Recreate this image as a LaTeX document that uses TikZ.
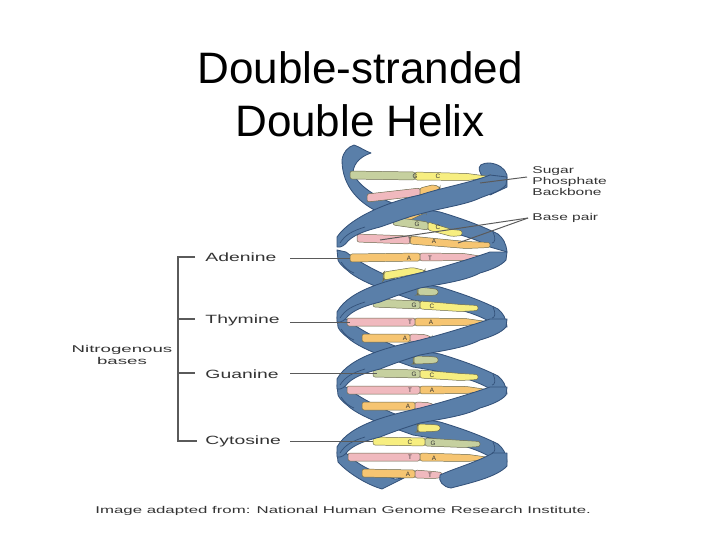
\documentclass[tikz,border=0pt]{standalone}
\usepackage{fontspec}
\setmainfont{Liberation Sans}
\definecolor{myblue}{HTML}{5A7FA9}
\definecolor{mydarkblue}{HTML}{34527A}
\definecolor{mypink}{HTML}{F0B9BE}
\definecolor{myorange}{HTML}{F6C572}
\definecolor{myyellow}{HTML}{F7EE80}
\definecolor{mysage}{HTML}{C6D09F}
\definecolor{myoutline}{HTML}{6B6A4E}
\definecolor{mygray}{HTML}{5A5A5A}
\definecolor{mytext}{HTML}{333333}
\tikzset{
  ribbon/.style={draw=mydarkblue, fill=myblue, line width=0.6pt, line join=round},
  ridge/.style={mydarkblue, line width=0.5pt},
  basepiece/.style={draw=myoutline, line width=0.35pt, rounded corners=1.5pt},
  baseletter/.style={mytext, font=\fontsize{4.5}{5}\selectfont, inner sep=0pt},
  leader/.style={mygray, line width=0.7pt},
  bracket/.style={mygray, line width=1.1pt},
  labeltext/.style={mytext, font=\fontsize{8.5}{9}\selectfont, xscale=1.62, inner sep=0pt, anchor=west},
  smalltext/.style={mytext, font=\fontsize{7}{8}\selectfont, xscale=1.58, inner sep=0pt, anchor=west}
}
\begin{document}
\begin{tikzpicture}[x=0.025cm, y=-0.025cm]
\useasboundingbox (0,0) rectangle (720,540);

% TITLE
\node[font=\fontsize{31.3}{38}\selectfont, align=center, text=black, inner sep=0pt] (title) at (360,94) {Double-stranded\\Double Helix};

% BACK STRANDS
\draw[ribbon] (342,160) .. controls (343,152) and (348,147) .. (354,145) .. controls (360,147) and (365,151) .. (371,153) .. controls (362,156) and (354,162) .. (353,172) .. controls (356,184) and (375,197) .. (395,204) .. controls (410,208) and (430,210) .. (440,212) .. controls (460,218) and (480,225) .. (498,234) .. controls (503,238) and (506,243) .. (507,252) -- (490,247) .. controls (475,237) and (440,229) .. (413,225) -- (385,215) .. controls (360,205) and (342,187) .. cycle;
\draw[ribbon] (480,172) .. controls (477,165) and (482,163) .. (490,163) .. controls (498,164) and (505,168) .. (507,175) -- (507,187) -- (490,195) -- cycle;
\draw[ridge] (493,232) .. controls (496,238) and (495,243) .. (492,243);
\foreach \dy in {0,67,135} {
  \begin{scope}[yshift={-\dy*0.025cm}]
  \draw[ribbon] (346,252) .. controls (360,263) and (378,272) .. (395,279) .. controls (410,283) and (430,285) .. (440,287) .. controls (460,293) and (480,300) .. (498,309) .. controls (503,313) and (506,318) .. (507,327) -- (490,322) .. controls (475,312) and (440,304) .. (413,300) -- (385,290) .. controls (372,285) and (355,278) .. (347,270) .. controls (343,267) and (339,263) .. (338,260) -- (337,250) -- cycle;
  \draw[ridge] (341,262) .. controls (345,268) and (349,271) .. (354,273);
  \draw[ridge] (493,307) .. controls (496,313) and (495,318) .. (492,318);
  \end{scope}
}
\draw[ribbon] (346,453) .. controls (358,465) and (372,472) .. (395,479) -- (404,478) -- (382,489) .. controls (365,484) and (347,472) .. (338,462) -- (337,452) -- cycle;

% BASE PAIRS
\foreach \xa/\ya/\xm/\ym/\xb/\yb/\cola/\colb/\tipb in {
  350/175/415/176/490/177/mysage/myyellow/0.5,
  367/198/420/192/440/188/mypink/myorange/0.5,
  403/219/404/219/426/212/myorange/myorange/0.5,
  393/221/428/226/462/233/mysage/myyellow/2.5,
  357/238/410/240/490/245/mypink/myorange/2.5,
  350/258/420/257/483/257/myorange/mypink/0.5,
  383/277/384/276/425/271/myyellow/myyellow/0.5,
  417/291/418/291/438/292/mysage/mysage/2.5,
  373/303/420/305/478/308/mysage/myyellow/2.5,
  347/322/415/322/487/322/mypink/myorange/0.5,
  362/338/410/338/432/338/myorange/mypink/0.5,
  413/360/414/360/438/360/mysage/mysage/2.5,
  373/373/420/374/478/377/mysage/myyellow/2.5,
  347/390/420/390/487/390/mypink/myorange/0.5,
  362/406/415/406/435/406/myorange/mypink/0.5,
  417/428/418/428/440/428/myyellow/myyellow/2.5,
  373/441/425/442/480/444/myyellow/mysage/2.5,
  348/457/420/457/490/458/mypink/myorange/0.5,
  362/473/415/474/442/475/myorange/mypink/2.5
} {
  \fill[basepiece, fill=\cola] (\xa,\ya-4) -- (\xm,\ym-4) -- (\xm,\ym+4) -- (\xa,\ya+4) -- cycle;
  \fill[basepiece, fill=\colb] (\xm,\ym-4) -- ({\xb-0.3*(\xb-\xm)},{\yb-3.5}) -- (\xb,\yb-\tipb) -- (\xb,\yb+\tipb) -- ({\xb-0.3*(\xb-\xm)},{\yb+3.5}) -- (\xm,\ym+4) -- cycle;
}
\foreach \x/\y/\letter [count=\i] in {
  415/176/G, 438/176/C, 417/224/G, 438/227/C, 410/240/T, 434/241/A, 409/258/A, 430/258/T,
  414/305/G, 432/306/C, 410/322/T, 431/322/A, 405/338/A, 414/374/G, 432/375/C,
  410/390/T, 432/390/A, 408/406/A, 410/442/C, 433/443/G, 410/457/T, 434/458/A, 408/474/A, 430/475/T
} {
  \node[baseletter] (letter\i) at (\x,\y) {\letter};
}

% FRONT STRANDS
\draw[ribbon] (490,175) .. controls (470,183) and (440,188) .. (420,195) .. controls (395,200) and (352,215) .. (337,237) -- (337,247) .. controls (341,248) and (345,245) .. (348,241) .. controls (355,234) and (368,230) .. (380,227) .. controls (395,222) and (410,216) .. (420,214) .. controls (445,207) and (465,205) .. (480,198) .. controls (490,194) and (501,191) .. (506,185) -- (507,177) -- cycle;
\draw[ridge] (340,243) .. controls (345,235) and (352,231) .. (365,227);
\foreach \dy in {0,67,135} {
  \begin{scope}[yshift={-\dy*0.025cm}]
  \draw[ribbon] (490,252) .. controls (470,259) and (440,268) .. (420,273) .. controls (395,279) and (350,288) .. (337,312) -- (337,322) .. controls (341,323) and (345,320) .. (348,316) .. controls (355,309) and (368,305) .. (380,302) .. controls (395,296) and (410,291) .. (420,288) .. controls (440,284) and (465,281) .. (480,273) .. controls (490,270) and (501,266) .. (506,260) -- (507,252) -- cycle;
  \draw[ridge] (340,318) .. controls (345,310) and (352,306) .. (365,302);
  \end{scope}
}
\draw[ribbon] (493,453) .. controls (475,463) and (455,468) .. (440,475) .. controls (438,481) and (443,487) .. (451,488) .. controls (470,483) and (497,477) .. (507,466) -- (507,453) -- cycle;

% LABELS
\node[labeltext] (adenine) at (205,257) {Adenine};
\node[labeltext] (thymine) at (205,320) {Thymine};
\node[labeltext] (guanine) at (205,374) {Guanine};
\node[labeltext] (cytosine) at (205,441) {Cytosine};
\node[smalltext, xscale=1.2, anchor=center, align=center] (bases) at (122,355) {Nitrogenous\\bases};
\node[smalltext, align=left] (backbone) at (532,181) {Sugar\\Phosphate\\Backbone};
\node[smalltext] (basepair) at (532,218) {Base pair};
\node[smalltext, xscale=1.08] (credit) at (95,511) {Image adapted from: National Human Genome Research Institute.};

% LEADERS
\coordinate (adeninetip) at (350,258);
\coordinate (thyminetip) at (350,322);
\coordinate (guaninetip) at (377,373);
\coordinate (cytosinetip) at (373,441);
\coordinate (backbonetip) at (480,183);
\coordinate (pairtipa) at (380,240);
\coordinate (pairtipb) at (458,243);
\draw[leader] (290,258) -- (adeninetip);
\draw[leader] (290,322) -- (thyminetip);
\draw[leader] (290,373) -- (guaninetip);
\draw[leader] (290,441) -- (cytosinetip);
\draw[leader] (527,177) -- (backbonetip);
\draw[leader] (528,218) -- (pairtipa);
\draw[leader] (528,218) -- (pairtipb);

% BRACKET
\draw[bracket] (195,257) -- (178,257) -- (178,441) -- (197,441);
\draw[bracket] (178,319) -- (195,319);
\draw[bracket] (178,373) -- (195,373);

\end{tikzpicture}
\end{document}
